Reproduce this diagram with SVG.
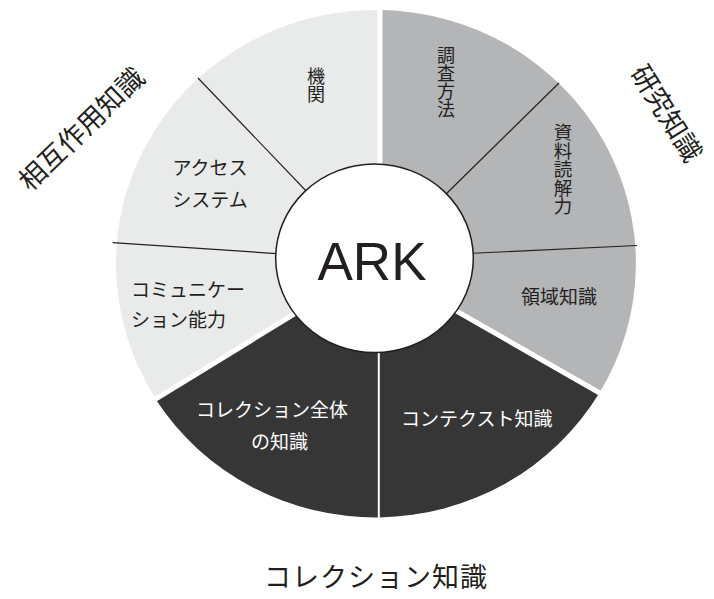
<svg xmlns="http://www.w3.org/2000/svg" width="714" height="599" viewBox="0 0 714 599">
<style>
.t{font-family:"Noto Sans CJK JP","Noto Sans",sans-serif;font-size:19px;fill:#231f20}
.v{font-family:"Noto Sans CJK JP","Noto Sans",sans-serif;font-size:18px;fill:#231f20;writing-mode:vertical-rl}
.w{fill:#ffffff}
.big{font-family:"Noto Sans CJK JP","Noto Sans",sans-serif;font-size:27px;fill:#231f20;text-anchor:middle}
.thin{stroke:#231f20;stroke-width:1.2;fill:none}
.gap{stroke:#ffffff;stroke-width:5;fill:none}
</style>
<rect width="714" height="599" fill="#ffffff"/>
<g id="interaction">
<ellipse cx="376" cy="263.5" rx="260" ry="253.5" fill="#e9eaea"/>
</g>
<g id="research">
<path d="M380 264.5 L380 10 A260 253.5 0 0 1 599.4 392.8 L375 264.5 Z" fill="#b4b5b7"/>
</g>
<g id="collection">
<path d="M375 264.5 L599.4 392.8 A260 253.5 0 0 1 155.5 399 Z" fill="#363636"/>
</g>
<g id="connectors">
<line class="gap" x1="380" y1="0" x2="380" y2="264"/>
<line class="gap" x1="375" y1="264.5" x2="138" y2="409.8"/>
<line class="gap" x1="375" y1="264.5" x2="612" y2="400"/>
<line x1="378.8" y1="264" x2="378.8" y2="522" stroke="#ffffff" stroke-width="2"/>
<line class="thin" x1="198" y1="78" x2="310" y2="195"/>
<line class="thin" x1="112.7" y1="242.7" x2="280" y2="253.8"/>
<line class="thin" x1="559" y1="83" x2="442" y2="198"/>
<line class="thin" x1="637" y1="245.5" x2="468" y2="253.5"/>
</g>
<g id="node-kikan">
<text class="v" x="316" y="67">機関</text>
</g>
<g id="node-access">
<text class="t" x="210" y="175" text-anchor="middle">アクセス</text>
<text class="t" x="210" y="207" text-anchor="middle">システム</text>
</g>
<g id="node-communication">
<text class="t" x="131" y="297">コミュニケー</text>
<text class="t" x="131" y="327">ション能力</text>
</g>
<g id="node-chousa">
<text class="v" x="446" y="46">調査方法</text>
</g>
<g id="node-shiryou">
<text class="v" x="563" y="123" style="font-size:18.5px">資料読解力</text>
</g>
<g id="node-ryouiki">
<text class="t" x="521" y="304">領域知識</text>
</g>
<g id="node-context">
<text class="t w" x="401" y="426">コンテクスト知識</text>
</g>
<g id="node-zentai">
<text class="t w" x="196" y="417">コレクション全体</text>
<text class="t w" x="251" y="449">の知識</text>
</g>
<g id="node-ark">
<ellipse cx="374.5" cy="258.3" rx="98.8" ry="94.3" fill="#ffffff" stroke="#231f20" stroke-width="1.5"/>
<text x="372" y="280" text-anchor="middle" font-family="Liberation Sans, Arial, sans-serif" font-size="53" fill="#231f20">ARK</text>
</g>
<g id="label-interaction">
<text class="big" x="81" y="138.8" transform="rotate(-44 81 128.5)">相互作用知識</text>
</g>
<g id="label-research">
<text class="big" x="667" y="123.3" transform="rotate(58 667 113)">研究知識</text>
</g>
<g id="label-collection">
<text x="264" y="587" font-family="Noto Sans CJK JP, Noto Sans, sans-serif" font-size="27" letter-spacing="1" fill="#231f20">コレクション知識</text>
</g>
</svg>
